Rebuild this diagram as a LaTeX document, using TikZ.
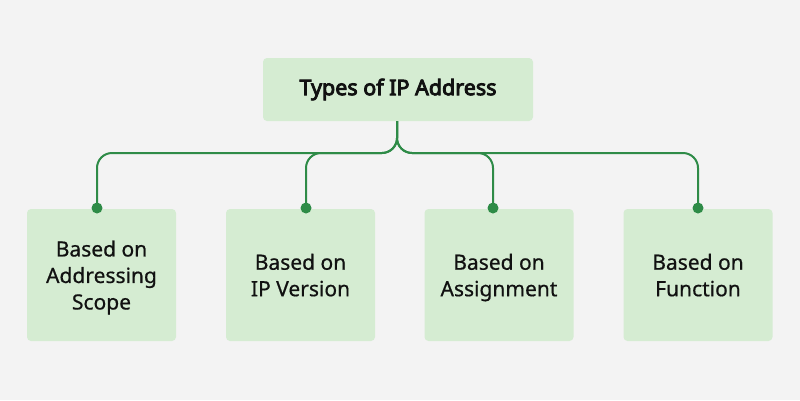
\documentclass[tikz,border=0pt]{standalone}
\usepackage{fontspec}
\setmainfont{Noto Sans}[UprightFeatures={FakeBold=0.6},BoldFont={Noto Sans},BoldFeatures={FakeBold=4}]
\definecolor{bg}{HTML}{F3F3F3}
\definecolor{boxfill}{HTML}{D5ECD2}
\definecolor{linegreen}{HTML}{2E8B47}
\definecolor{txt}{HTML}{111111}
\begin{document}
\begin{tikzpicture}[x=1pt,y=-1pt,
  titlebox/.style={fill=boxfill,rounded corners=4pt,minimum width=270pt,minimum height=63pt,inner sep=0pt,text=txt,font=\bfseries\fontsize{21.5}{26}\selectfont},
  leafbox/.style={fill=boxfill,rounded corners=4pt,minimum width=149pt,minimum height=132pt,inner sep=0pt,text=txt,align=center,text depth=0pt,font=\fontsize{21}{26.5}\selectfont},
  conn/.style={draw=linegreen,line width=2pt,rounded corners=15pt},
  dotmark/.style={circle,fill=linegreen,inner sep=0pt,minimum size=11pt}]
\fill[bg] (0,0) rectangle (800,400);
\useasboundingbox (0,0) rectangle (800,400);
\node[titlebox] (top) at (398,89.5) {Types of IP Address};
\node[leafbox] (b1) at (101.5,275) {Based on\\Addressing\\Scope};
\node[leafbox] (b2) at (300.5,275) {Based on\\IP Version};
\node[leafbox] (b3) at (499,275) {Based on\\Assignment};
\node[leafbox] (b4) at (698,275) {Based on\\Function};
\coordinate (d1) at (97,208);
\coordinate (d2) at (306,208);
\coordinate (d3) at (493,208);
\coordinate (d4) at (698,208);
\draw[conn] (top.south -| 397,0) -- (397,153) -- (97,153) -- (d1);
\draw[conn] (top.south -| 397,0) -- (397,153) -- (306,153) -- (d2);
\draw[conn] (top.south -| 397,0) -- (397,153) -- (493,153) -- (d3);
\draw[conn] (top.south -| 397,0) -- (397,153) -- (698,153) -- (d4);
\node[dotmark] at (d1) {};
\node[dotmark] at (d2) {};
\node[dotmark] at (d3) {};
\node[dotmark] at (d4) {};
\end{tikzpicture}
\end{document}
